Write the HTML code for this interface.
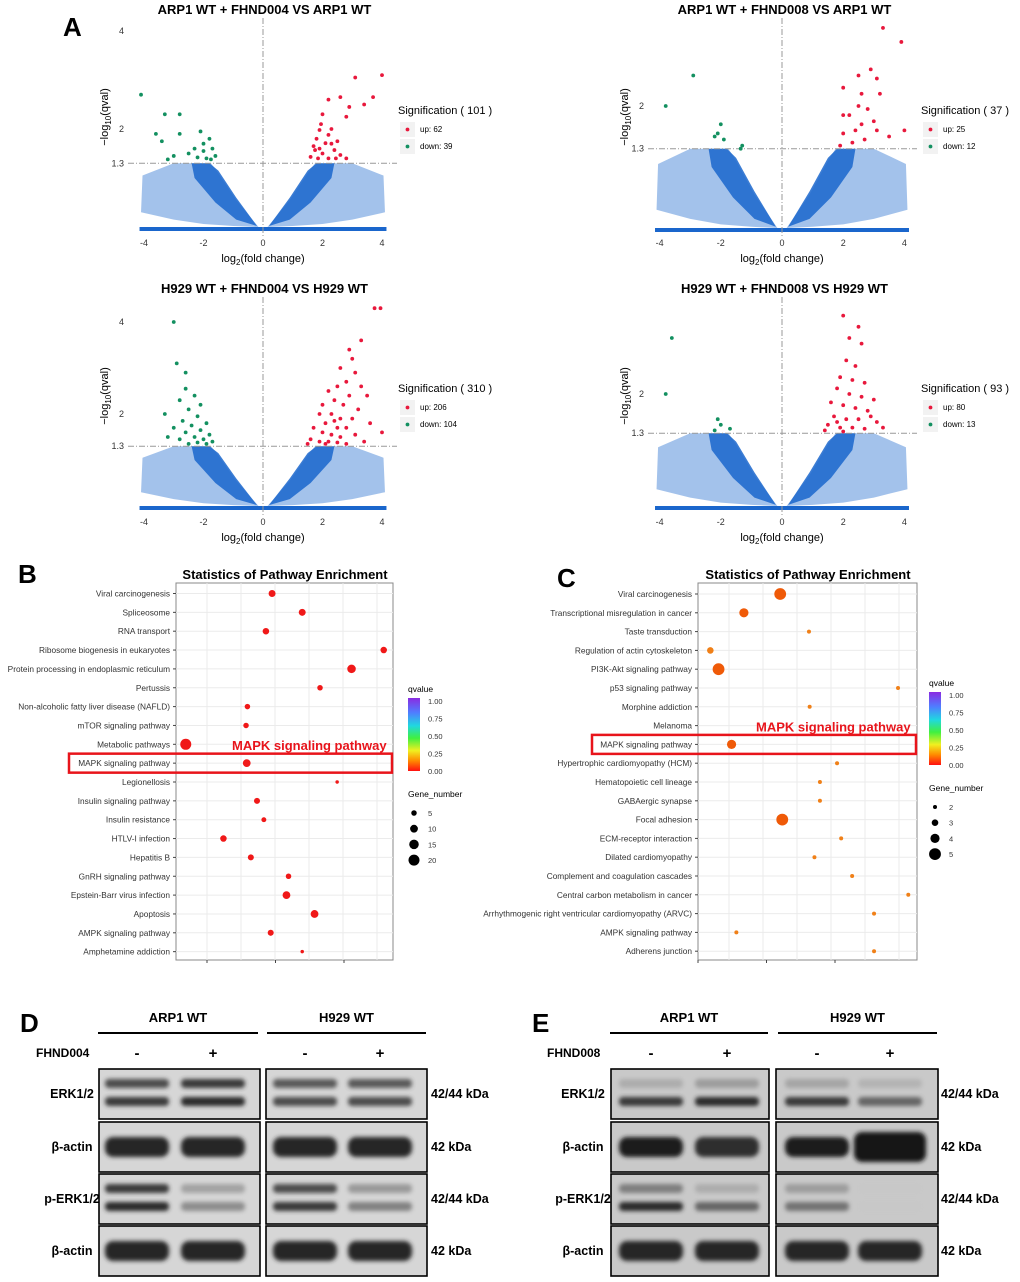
<!DOCTYPE html>
<html><head><meta charset="utf-8"><style>
html,body{margin:0;padding:0;background:#fff}
svg{display:block;font-family:"Liberation Sans",Arial,sans-serif}
</style></head><body>
<svg id="fig" width="1020" height="1282" viewBox="0 0 1020 1282" xmlns="http://www.w3.org/2000/svg">
<defs>
<filter id="blur" x="-20%" y="-50%" width="140%" height="200%"><feGaussianBlur stdDeviation="2.2"/></filter>
<linearGradient id="cbar" x1="0" y1="0" x2="0" y2="1">
<stop offset="0" stop-color="#8a2be2"/><stop offset="0.2" stop-color="#4f7dff"/><stop offset="0.38" stop-color="#20d8e0"/><stop offset="0.55" stop-color="#40f040"/><stop offset="0.72" stop-color="#f0f020"/><stop offset="0.86" stop-color="#ff8a00"/><stop offset="1" stop-color="#ff1010"/>
</linearGradient>
</defs>
<g id="root"></g>
</svg>
<script>
// ---------- Volcano data (data units: log2FC, -log10 q) ----------
const volcanoTitles = ["ARP1 WT + FHND004 VS ARP1 WT","ARP1 WT + FHND008 VS ARP1 WT","H929 WT + FHND004 VS H929 WT","H929 WT + FHND008 VS H929 WT"];
const volcanoTotals = [101,37,310,93];
const volcanoUp = [62,25,206,80];
const volcanoDown = [39,12,104,13];
const yTicks1 = [1.3,2,4];
const yTicks2 = [1.3,2];
const xTicks = [-4,-2,0,2,4];
const up1 = [[4,3.1],[3.7,2.65],[3.4,2.5],[3.1,3.05],[2.9,2.45],[2.8,2.25],[2.6,2.65],[2.2,2.6],[2.0,2.3],[1.9,1.98],[2.2,1.88],[2.1,1.71],[1.75,1.57],[2.4,1.57],[2.6,1.47],[1.85,1.4],[2.2,1.4],[1.6,1.43],[2.8,1.4],[1.95,2.1],[2.3,2.0],[1.8,1.8],[2.5,1.75],[1.7,1.65],[2.0,1.5],[2.3,1.7],[1.9,1.6],[2.45,1.4]];
const down1 = [[-4.1,2.7],[-3.3,2.3],[-2.8,2.3],[-3.6,1.9],[-3.4,1.75],[-2.8,1.9],[-2.1,1.95],[-2.0,1.7],[-1.8,1.8],[-1.7,1.6],[-2.3,1.6],[-2.5,1.5],[-3.0,1.45],[-1.6,1.45],[-1.9,1.4],[-3.2,1.38],[-2.2,1.42],[-2.0,1.55],[-1.75,1.38]];
const up2 = [[3.3,3.28],[3.9,3.05],[2.9,2.6],[3.1,2.45],[2.5,2.5],[3.2,2.2],[2.0,2.3],[2.5,2.0],[2.8,1.95],[2.2,1.85],[2.6,1.7],[3.0,1.75],[2.4,1.6],[2.0,1.55],[1.9,1.35],[2.3,1.4],[2.7,1.45],[3.5,1.5],[2.0,1.85],[4.0,1.6],[2.6,2.2],[3.1,1.6]];
const down2 = [[-2.9,2.5],[-3.8,2.0],[-2.0,1.7],[-2.1,1.55],[-1.9,1.45],[-1.3,1.35],[-2.2,1.5],[-1.35,1.3]];
const up3 = [[3.95,4.3],[3.75,4.3],[2.9,3.4],[3.0,3.2],[2.6,3.0],[3.1,2.9],[2.8,2.7],[3.3,2.6],[2.5,2.6],[2.2,2.5],[3.5,2.4],[2.9,2.4],[2.4,2.3],[2.0,2.2],[2.7,2.2],[3.2,2.1],[1.9,2.0],[2.3,2.0],[2.6,1.9],[3.0,1.9],[3.6,1.8],[2.1,1.8],[2.5,1.7],[2.8,1.7],[1.7,1.7],[2.0,1.6],[2.3,1.55],[2.6,1.5],[3.1,1.55],[1.6,1.45],[1.9,1.4],[2.2,1.4],[2.5,1.38],[2.8,1.35],[3.4,1.4],[1.5,1.35],[2.1,1.35],[4.0,1.6],[3.3,3.6],[2.4,1.85]];
const down3 = [[-3.0,4.0],[-2.9,3.1],[-2.6,2.9],[-2.6,2.55],[-2.3,2.4],[-2.8,2.3],[-2.1,2.2],[-2.5,2.1],[-3.3,2.0],[-2.2,1.95],[-2.7,1.85],[-1.9,1.8],[-2.4,1.75],[-3.0,1.7],[-2.1,1.65],[-2.6,1.6],[-1.8,1.55],[-2.3,1.5],[-2.0,1.45],[-2.8,1.45],[-1.7,1.4],[-2.2,1.38],[-2.5,1.35],[-1.9,1.35],[-3.2,1.5]];
const up4 = [[2.0,3.4],[2.5,3.2],[2.2,3.0],[2.6,2.9],[2.1,2.6],[2.4,2.5],[1.9,2.3],[2.3,2.25],[2.7,2.2],[1.8,2.1],[2.2,2.0],[2.6,1.95],[3.0,1.9],[1.6,1.85],[2.0,1.8],[2.4,1.75],[2.8,1.7],[1.7,1.6],[2.1,1.55],[2.5,1.55],[3.1,1.5],[1.5,1.45],[1.9,1.4],[2.3,1.4],[2.7,1.38],[1.4,1.35],[2.0,1.33],[3.3,1.4],[2.9,1.6],[1.8,1.5]];
const down4 = [[-3.6,3.0],[-3.8,2.0],[-2.1,1.55],[-2.0,1.45],[-1.7,1.38],[-2.2,1.35]];
// blue non-significant cloud outline (right half; mirrored for left)
const cloudOuter = [[0.15,0],[0.9,0.55],[1.5,1.1],[1.75,1.3],[3.0,1.3],[4.05,1.05],[4.1,0.3],[3.0,0.15],[2.0,0.06],[1.0,0.02]];
const cloudDense = [[0.2,0.02],[0.9,0.6],[1.5,1.15],[1.8,1.3],[2.4,1.3],[2.3,1.0],[1.6,0.5],[0.9,0.15]];

// ---------- Panel B / C ----------
const pathwaysB = ["Viral carcinogenesis","Spliceosome","RNA transport","Ribosome biogenesis in eukaryotes","Protein processing in endoplasmic reticulum","Pertussis","Non-alcoholic fatty liver disease (NAFLD)","mTOR signaling pathway","Metabolic pathways","MAPK signaling pathway","Legionellosis","Insulin signaling pathway","Insulin resistance","HTLV-I infection","Hepatitis B","GnRH signaling pathway","Epstein-Barr virus infection","Apoptosis","AMPK signaling pathway","Amphetamine addiction"];
const richB = [0.195,0.239,0.186,0.358,0.311,0.265,0.159,0.157,0.069,0.158,0.290,0.173,0.183,0.124,0.164,0.219,0.216,0.257,0.193,0.239];
const genesB = [8,8,7,7,12,5,5,5,20,10,2,6,4,7,6,5,10,10,6,2];
const pathwaysC = ["Viral carcinogenesis","Transcriptional misregulation in cancer","Taste transduction","Regulation of actin cytoskeleton","PI3K-Akt signaling pathway","p53 signaling pathway","Morphine addiction","Melanoma","MAPK signaling pathway","Hypertrophic cardiomyopathy (HCM)","Hematopoietic cell lineage","GABAergic synapse","Focal adhesion","ECM-receptor interaction","Dilated cardiomyopathy","Complement and coagulation cascades","Central carbon metabolism in cancer","Arrhythmogenic right ventricular cardiomyopathy (ARVC)","AMPK signaling pathway","Adherens junction"];
const richC = [0.220,0.167,0.262,0.118,0.130,0.392,0.263,null,0.149,0.303,0.278,0.278,0.223,0.309,0.270,0.325,0.407,0.357,0.156,0.357];
const genesC = [5,4,2,3,5,2,2,null,4,2,2,2,5,2,2,2,2,2,2,2];
const legendGenesB = [5,10,15,20];
const legendGenesC = [2,3,4,5];
const qTicks = ["1.00","0.75","0.50","0.25","0.00"];

// ---------- Western blots (band darkness 0..1) ----------
const blotRows = ["ERK1/2","β-actin","p-ERK1/2","β-actin"];
const blotKDa = ["42/44 kDa","42 kDa","42/44 kDa","42 kDa"];
const blotD = [[[0.8,0.85],[0.85,0.9],[0.75,0.8],[0.75,0.8]],[[0.9],[0.9],[0.9],[0.9]],[[0.85,0.9],[0.45,0.55],[0.8,0.85],[0.5,0.6]],[[0.9],[0.9],[0.9],[0.9]]];
const blotE = [[[0.35,0.85],[0.45,0.9],[0.4,0.85],[0.3,0.7]],[[0.95],[0.85],[0.95],[1.0]],[[0.6,0.9],[0.35,0.7],[0.45,0.65],[0.03,0.03]],[[0.9],[0.9],[0.9],[0.9]]];

const NS="http://www.w3.org/2000/svg";
const root=document.getElementById('root');
function mk(tag,attrs,parent,text){const e=document.createElementNS(NS,tag);for(const k in attrs)e.setAttribute(k,attrs[k]);if(text!==undefined)e.textContent=text;(parent||root).appendChild(e);return e;}

[["A",63,36],["B",18,583],["C",557,587],["D",20,1032],["E",532,1032]].forEach(p=>{
 const t=mk('text',{x:p[1],y:p[2],'font-size':26,'font-weight':'bold'},root,p[0]);
 
 
});

// ---------- volcano plots ----------
const vcfg=[
 {x0:263,ux:29.75,y0:227,uy:49,top:18,bot:236,left:128,right:397,titleY:14,legY:111,legX:398,yt:yTicks1,up:up1,dn:down1},
 {x0:782,ux:30.6,y0:228,uy:61,top:18,bot:236,left:648,right:917,titleY:14,legY:111,legX:921,yt:yTicks2,up:up2,dn:down2},
 {x0:263,ux:29.75,y0:506,uy:46,top:297,bot:515,left:128,right:397,titleY:293,legY:389,legX:398,yt:yTicks1,up:up3,dn:down3},
 {x0:782,ux:30.6,y0:506,uy:56,top:297,bot:515,left:648,right:917,titleY:293,legY:389,legX:921,yt:yTicks2,up:up4,dn:down4}];
vcfg.forEach((c,i)=>{
 const g=mk('g',{});
 
 
 const sx=v=>c.x0+v*c.ux, sy=v=>c.y0-v*c.uy;
 const t=mk('text',{x:(c.left+c.right)/2+2,y:c.titleY,'font-size':13,'font-weight':'bold','text-anchor':'middle'},g,volcanoTitles[i]);
 
 
 [[cloudOuter,0.4],[cloudDense,0.85]].forEach(([poly,op])=>{
  [1,-1].forEach(s=>{
   const p=mk('polygon',{points:poly.map(q=>sx(s*q[0])+','+sy(q[1])).join(' '),fill:'#1a66cc',opacity:op},g);
   
   
  });
 });
 const bl=mk('line',{x1:sx(-4.15),x2:sx(4.15),y1:sy(0)+2,y2:sy(0)+2,stroke:'#1a66cc','stroke-width':4},g);
 
 
 const hl=mk('line',{x1:c.left,x2:c.right,y1:sy(1.3),y2:sy(1.3),stroke:'#999','stroke-dasharray':'6,2,1,2','stroke-width':1},g);
 
 
 const vl=mk('line',{x1:sx(0),x2:sx(0),y1:c.top,y2:c.bot,stroke:'#999','stroke-dasharray':'6,2,1,2','stroke-width':1},g);
 
 
 c.up.forEach(p=>{const d=mk('circle',{cx:sx(p[0]),cy:sy(p[1]),r:1.9,fill:'#e8183c'},g);
  
  });
 c.dn.forEach(p=>{const d=mk('circle',{cx:sx(p[0]),cy:sy(p[1]),r:1.9,fill:'#139060'},g);
  
  });
 xTicks.forEach(v=>{const tl=mk('text',{x:sx(v),y:c.bot+10,'font-size':9,'text-anchor':'middle',fill:'#333'},g,String(v));
  
  });
 c.yt.forEach(v=>{const tl=mk('text',{x:c.left-4,y:sy(v)+3,'font-size':9,'text-anchor':'end',fill:'#333'},g,String(v));
  
  });
 const xt=mk('text',{x:sx(0),y:c.bot+26,'font-size':11,'text-anchor':'middle'},g);
 
 
 xt.innerHTML='log<tspan font-size="8" dy="3">2</tspan><tspan dy="-3">(fold change)</tspan>';
 const yt=mk('text',{transform:`translate(${c.left-20},${(c.top+c.bot)/2-10}) rotate(-90)`,'font-size':11,'text-anchor':'middle'},g);
 
 
 yt.innerHTML='−log<tspan font-size="8" dy="3">10</tspan><tspan dy="-3">(qval)</tspan>';
 const lg=mk('g',{},g);
 
 
 mk('text',{x:c.legX,y:c.legY+3,'font-size':11},lg,`Signification ( ${volcanoTotals[i]} )`);
 mk('rect',{x:c.legX+2,y:c.legY+11,width:15,height:15,fill:'#f2f2f2'},lg);
 mk('circle',{cx:c.legX+9.5,cy:c.legY+18.5,r:1.9,fill:'#e8183c'},lg);
 mk('text',{x:c.legX+22,y:c.legY+21,'font-size':8},lg,'up: '+volcanoUp[i]);
 mk('rect',{x:c.legX+2,y:c.legY+28,width:15,height:15,fill:'#f2f2f2'},lg);
 mk('circle',{cx:c.legX+9.5,cy:c.legY+35.5,r:1.9,fill:'#139060'},lg);
 mk('text',{x:c.legX+22,y:c.legY+38,'font-size':8},lg,'down: '+volcanoDown[i]);
});

// ---------- enrichment plots ----------
function enrich(cfg){
 const g=mk('g',{});
 
 
 const sx=v=>cfg.L+(v-0.1)*cfg.kx+cfg.ox;
 const rowY=i=>cfg.y0+i*cfg.dy;
 mk('text',{x:cfg.tx,y:579,'font-size':13,'font-weight':'bold','text-anchor':'middle'},g,'Statistics of Pathway Enrichment');
 mk('rect',{x:cfg.L,y:583,width:cfg.R-cfg.L,height:377,fill:'#fff',stroke:'#888','stroke-width':1},g);
 for(let gx=cfg.L+31;gx<cfg.R;gx+=34)mk('line',{x1:gx,x2:gx,y1:583,y2:960,stroke:'#ebebeb'},g);
 cfg.names.forEach((n,i)=>{
  mk('line',{x1:cfg.L,x2:cfg.R,y1:rowY(i),y2:rowY(i),stroke:'#ebebeb'},g);
  const tl=mk('text',{x:cfg.L-6,y:rowY(i)+3,'font-size':8.3,'text-anchor':'end',fill:'#333'},g,n);
  
  
  mk('line',{x1:cfg.L-3,x2:cfg.L,y1:rowY(i),y2:rowY(i),stroke:'#444'},g);
  if(cfg.rich[i]!=null){
   const d=mk('circle',{cx:sx(cfg.rich[i]),cy:rowY(i),r:cfg.rad(cfg.genes[i]),fill:cfg.col(i)},g);
   
   
  }
 });
 [0.1,0.2,0.3].forEach(v=>mk('line',{x1:sx(v),x2:sx(v),y1:960,y2:963,stroke:'#444'},g));
 const box=mk('rect',{x:cfg.bx,y:rowY(cfg.mapk)-9.5,width:cfg.R-cfg.bx-1,height:19,fill:'none',stroke:'#e8141b','stroke-width':2.5},g);
 
 
 const ml=mk('text',{x:cfg.mx,y:rowY(cfg.mapk)-13,'font-size':13,'font-weight':'bold',fill:'#e8141b'},g,'MAPK signaling pathway');
 
 
 const lq=mk('g',{},g);
 
 
 mk('text',{x:cfg.lx,y:cfg.ly,'font-size':8.5},lq,'qvalue');
 mk('rect',{x:cfg.lx,y:cfg.ly+6,width:12,height:73,fill:'url(#cbar)'},lq);
 qTicks.forEach((q,k)=>mk('text',{x:cfg.lx+20,y:cfg.ly+12+k*17.5,'font-size':7.5,fill:'#333'},lq,q));
 const ln=mk('g',{},g);
 
 
 mk('text',{x:cfg.lx,y:cfg.ly+105,'font-size':8.5},ln,'Gene_number');
 cfg.leg.forEach((n,k)=>{mk('circle',{cx:cfg.lx+6,cy:cfg.ly+121+k*15.7,r:cfg.rad(n),fill:'#000'},ln);
  mk('text',{x:cfg.lx+20,y:cfg.ly+124+k*15.7,'font-size':7.5,fill:'#333'},ln,String(n));});
}
enrich({name:'enrichment-plot-b',L:176,R:393,ox:31,kx:685,y0:593.5,dy:18.85,tx:285,names:pathwaysB,rich:richB,genes:genesB,rad:n=>Math.sqrt(n)*1.23,col:()=>'#f01818',mapk:9,bx:69,mx:232,lx:408,ly:692,leg:legendGenesB});
enrich({name:'enrichment-plot-c',L:698,R:917,ox:0,kx:685,y0:594,dy:18.8,tx:808,names:pathwaysC,rich:richC,genes:genesC,rad:n=>1.3*n-0.6,col:i=>genesC[i]>=4?'#ef5a08':'#f08018',mapk:8,bx:592,mx:756,lx:929,ly:686,leg:legendGenesC});

// ---------- blots ----------
function blotPanel(cfg){
 const g=mk('g',{});
 
 
 cfg.groups.forEach((gr,gi)=>{
  mk('text',{x:(gr.hx1+gr.hx2)/2,y:1022,'font-size':13,'font-weight':'bold','text-anchor':'middle'},g,['ARP1 WT','H929 WT'][gi]);
  mk('line',{x1:gr.hx1,x2:gr.hx2,y1:1033,y2:1033,stroke:'#000','stroke-width':2},g);
  gr.lanes.forEach((lx,li)=>mk('text',{x:lx,y:1058,'font-size':15,'font-weight':'bold','text-anchor':'middle'},g,li?'+':'-'));
 });
 mk('text',{x:cfg.drugX,y:1057,'font-size':12,'font-weight':'bold'},g,cfg.drug);
 const rowTop=[1069,1122,1174,1226];
 rowTop.forEach((ry,r)=>{
  mk('text',{x:cfg.labX,y:ry+29,'font-size':12.5,'font-weight':'bold','text-anchor':'middle'},g,blotRows[r]);
  mk('text',{x:cfg.kX,y:ry+29,'font-size':12.5,'font-weight':'bold'},g,blotKDa[r]);
  cfg.groups.forEach((gr,gi)=>{
   const b=mk('g',{},g);
   
   
   mk('rect',{x:gr.bx1,y:ry,width:gr.bx2-gr.bx1,height:50,fill:cfg.bg},b);
   gr.lanes.forEach((lx,li)=>{
    const vals=cfg.data[r][gi*2+li];
    const heavy=cfg.heavy&&r===1&&gi===1&&li===1;
    if(vals.length===2){
     [[14,vals[0]],[32,vals[1]]].forEach(([oy,v])=>{
      const c=Math.round(200-v*175);
      mk('rect',{x:lx-32,y:ry+oy-4,width:64,height:9,rx:4,fill:`rgb(${c},${c},${c})`,opacity:Math.min(1,v+0.1),filter:'url(#blur)'},b);
     });
    }else{
     const v=vals[0],c=Math.round(200-v*180);
     mk('rect',{x:lx-(heavy?36:32),y:ry+(heavy?10:15),width:heavy?72:64,height:heavy?30:20,rx:8,fill:`rgb(${c},${c},${c})`,filter:'url(#blur)'},b);
    }
   });
   mk('rect',{x:gr.bx1,y:ry,width:gr.bx2-gr.bx1,height:50,fill:'none',stroke:'#000','stroke-width':1.6},b);
  });
 });
}
blotPanel({name:'western-blot-d',drug:'FHND004',drugX:36,labX:72,kX:431,bg:'#d6d6d6',data:blotD,
 groups:[{hx1:98,hx2:258,bx1:99,bx2:260,lanes:[137,213]},{hx1:267,hx2:426,bx1:266,bx2:427,lanes:[305,380]}]});
blotPanel({name:'western-blot-e',drug:'FHND008',drugX:547,labX:583,kX:941,bg:'#c9c9c9',data:blotE,heavy:true,
 groups:[{hx1:610,hx2:768,bx1:611,bx2:769,lanes:[651,727]},{hx1:778,hx2:937,bx1:776,bx2:938,lanes:[817,890]}]});
</script>
</body></html>
